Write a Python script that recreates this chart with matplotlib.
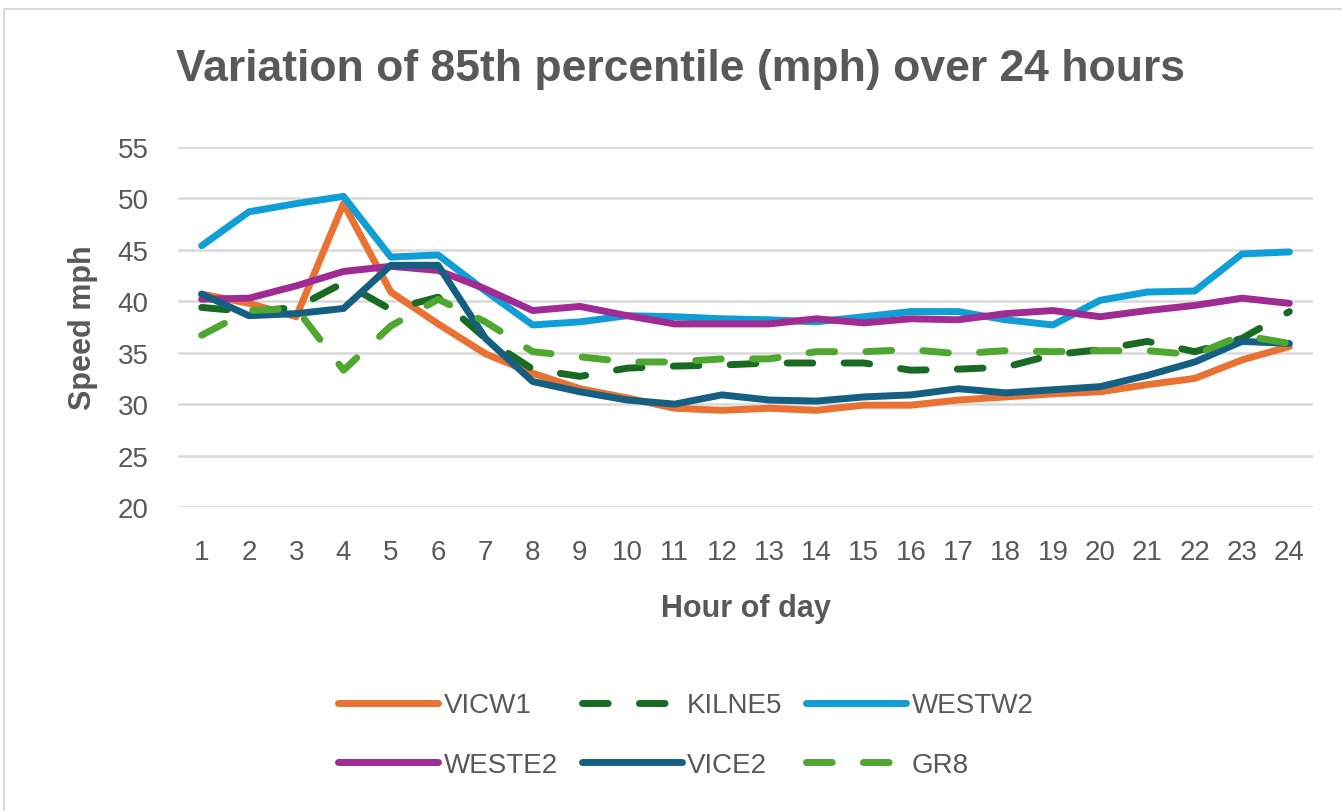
import numpy as np
import matplotlib.pyplot as plt
from matplotlib.lines import Line2D

hours = list(range(1, 25))

vicw1 = [40.7, 39.8, 38.5, 49.5, 40.9, 37.8, 34.9, 33.0, 31.5, 30.6, 29.6, 29.4,
         29.6, 29.4, 29.9, 29.9, 30.4, 30.7, 31.0, 31.2, 31.9, 32.5, 34.3, 35.6]
kilne5 = [39.4, 39.0, 39.4, 41.8, 39.2, 40.4, 36.4, 33.4, 32.7, 33.5, 33.7, 33.8,
          34.0, 34.0, 34.0, 33.3, 33.4, 33.6, 34.8, 35.3, 36.1, 35.1, 36.4, 39.0]
westw2 = [45.4, 48.7, 49.5, 50.2, 44.3, 44.5, 41.0, 37.7, 38.0, 38.6, 38.5, 38.3,
          38.2, 38.0, 38.5, 39.0, 39.0, 38.2, 37.7, 40.1, 40.9, 41.0, 44.6, 44.8]
weste2 = [40.2, 40.3, 41.5, 42.9, 43.4, 43.0, 41.2, 39.1, 39.5, 38.6, 37.8, 37.8,
          37.8, 38.3, 37.9, 38.3, 38.2, 38.8, 39.1, 38.5, 39.1, 39.6, 40.3, 39.8]
vice2 = [40.7, 38.6, 38.8, 39.3, 43.5, 43.5, 36.4, 32.2, 31.2, 30.4, 30.0, 30.9,
         30.4, 30.3, 30.7, 30.9, 31.5, 31.1, 31.4, 31.7, 32.8, 34.1, 36.1, 35.9]
gr8 = [36.7, 39.1, 39.3, 33.3, 37.6, 40.2, 38.0, 35.1, 34.6, 34.1, 34.1, 34.4,
       34.4, 35.1, 35.1, 35.3, 34.9, 35.2, 35.1, 35.2, 35.2, 34.8, 36.7, 35.9]

series = [
    ("VICW1", vicw1, "#E97132", False),
    ("KILNE5", kilne5, "#196B24", True),
    ("WESTW2", westw2, "#0F9ED5", False),
    ("WESTE2", weste2, "#A02B93", False),
    ("VICE2", vice2, "#156082", False),
    ("GR8", gr8, "#4EA72E", True),
]

text_col = "#595959"
plt.rcParams['font.family'] = ['Liberation Sans', 'DejaVu Sans']

W, H = 1342, 812
fig = plt.figure(figsize=(W / 100, H / 100), dpi=100)
ax = fig.add_axes([178 / W, 1 - 508 / H, (1313 - 178) / W, (508 - 148) / H])

# chart frame (only top/left edges show in the crop)
fig.add_artist(Line2D([4 / W, 4 / W], [0, 1 - 10 / H], transform=fig.transFigure,
                      color="#D9D9D9", lw=1.5))
fig.add_artist(Line2D([4 / W, 1], [1 - 10 / H, 1 - 10 / H], transform=fig.transFigure,
                      color="#D9D9D9", lw=1.5))

handles = []
for name, vals, col, dashed in series:
    ln, = ax.plot(hours, vals, color=col, lw=5.0, label=name,
                  solid_capstyle="round", dash_capstyle="round", solid_joinstyle="round")
    if dashed:
        ln.set_dashes([3.7, 4.5])
    handles.append(ln)

ax.set_xlim(0.5, 24.5)
ax.set_ylim(20, 55)
ax.set_yticks(range(20, 56, 5))
ax.set_xticks(hours)
ax.grid(axis="y", color="#D9D9D9", lw=1.8)
ax.set_axisbelow(True)
for s in ax.spines.values():
    s.set_visible(False)
ax.tick_params(length=0, labelsize=20, colors=text_col)
ax.tick_params(axis="x", pad=23)
ax.tick_params(axis="y", pad=21)

ax.set_xlabel("Hour of day", fontsize=22, fontweight="bold", color=text_col, labelpad=20)
ax.set_ylabel("Speed mph", fontsize=22, fontweight="bold", color=text_col, labelpad=14)

fig.text(681 / W, 1 - 70 / H, "Variation of 85th percentile (mph) over 24 hours",
         ha="center", va="center", fontsize=32, fontweight="bold", color=text_col)

# Excel fills the legend row by row; matplotlib fills column by column
order = [0, 3, 1, 4, 2, 5]
leg = fig.legend([handles[i] for i in order], [series[i][0] for i in order],
                 loc="center", bbox_to_anchor=(686 / W, 1 - 736 / H),
                 ncol=3, frameon=False, fontsize=20,
                 handlelength=3.6, handletextpad=0.2, columnspacing=0.85,
                 labelspacing=1.2)
for t in leg.get_texts():
    t.set_color(text_col)

fig.savefig("out.png", dpi=100, facecolor="white")
